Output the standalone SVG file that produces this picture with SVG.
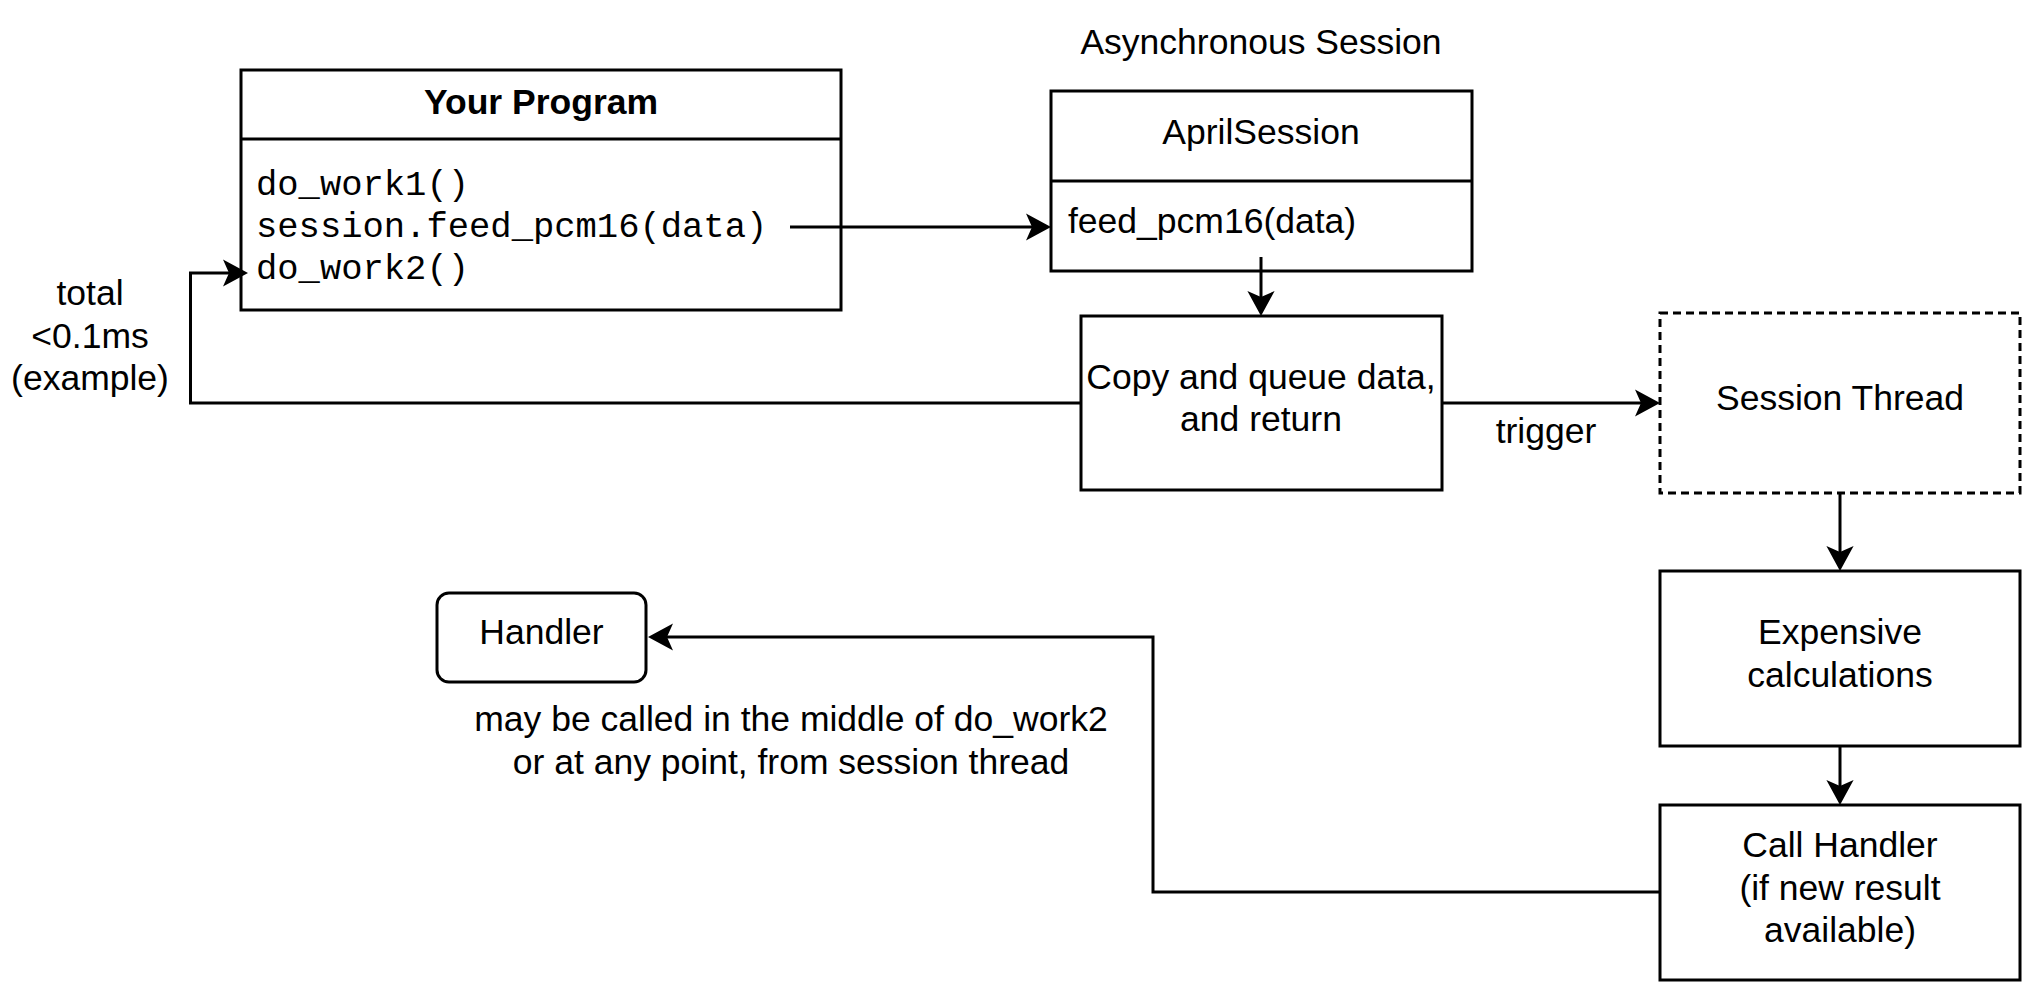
<svg xmlns="http://www.w3.org/2000/svg" width="2022" height="984" viewBox="0 0 2022 984">
<style>
  .box { fill: #ffffff; stroke: #000000; stroke-width: 3; }
  .dash { stroke-dasharray: 8 5; }
  .edge { fill: none; stroke: #000000; stroke-width: 3; }
  .t { font-family: "Liberation Sans", Arial, Helvetica, sans-serif; font-size: 35.5px; fill: #000000; text-anchor: middle; }
  .b { font-weight: bold; }
  .l { text-anchor: start; }
  .mono { font-family: "Liberation Mono", "Courier New", monospace; font-size: 35.5px; fill: #000000; }
</style>
<defs>
  <marker id="arrow" markerUnits="userSpaceOnUse" viewBox="-7 -15 27 30" markerWidth="27" markerHeight="30" refX="0" refY="0" orient="auto">
    <path d="M19,0 L-6,-13.6 L0,0 L-6,13.6 Z" fill="#000000"/>
  </marker>
</defs>
<rect width="2022" height="984" fill="#ffffff"/>

<g id="your-program">
  <rect class="box" x="241" y="70" width="600" height="240"/>
  <line class="edge" x1="241" y1="139" x2="841" y2="139"/>
  <text class="t b" x="541" y="114">Your Program</text>
  <text class="mono" x="256" y="195">do_work1()</text>
  <text class="mono" x="256" y="237">session.feed_pcm16(data)</text>
  <text class="mono" x="256" y="279">do_work2()</text>
</g>

<g id="async-session-label">
  <text class="t" x="1261" y="54">Asynchronous Session</text>
</g>

<g id="april-session">
  <rect class="box" x="1051" y="91" width="421" height="180"/>
  <line class="edge" x1="1051" y1="181" x2="1472" y2="181"/>
  <text class="t" x="1261" y="144">AprilSession</text>
  <text class="t l" x="1068" y="233">feed_pcm16(data)</text>
</g>

<g id="copy-queue">
  <rect class="box" x="1081" y="316" width="361" height="174"/>
  <text class="t" x="1261" y="388.5">Copy and queue data,</text>
  <text class="t" x="1261" y="431">and return</text>
</g>

<g id="session-thread">
  <rect class="box dash" x="1660" y="313" width="360" height="180"/>
  <text class="t" x="1840" y="410">Session Thread</text>
</g>

<g id="expensive">
  <rect class="box" x="1660" y="571" width="360" height="175"/>
  <text class="t" x="1840" y="644">Expensive</text>
  <text class="t" x="1840" y="686.5">calculations</text>
</g>

<g id="call-handler">
  <rect class="box" x="1660" y="805" width="360" height="175"/>
  <text class="t" x="1840" y="857">Call Handler</text>
  <text class="t" x="1840" y="899.5">(if new result</text>
  <text class="t" x="1840" y="942">available)</text>
</g>

<g id="handler">
  <rect class="box" x="437" y="593" width="209" height="89" rx="12" ry="12"/>
  <text class="t" x="541.5" y="644">Handler</text>
</g>

<g id="connectors">
  <path class="edge" d="M790,227 H1032" marker-end="url(#arrow)"/>
  <path class="edge" d="M1261,257 V297" marker-end="url(#arrow)"/>
  <path class="edge" d="M1442,403 H1641" marker-end="url(#arrow)"/>
  <path class="edge" d="M1081,403 H190.5 V273 H229" marker-end="url(#arrow)"/>
  <path class="edge" d="M1840,493 V552" marker-end="url(#arrow)"/>
  <path class="edge" d="M1840,746 V786" marker-end="url(#arrow)"/>
  <path class="edge" d="M1660,892 H1153 V637 H667" marker-end="url(#arrow)"/>
</g>

<g id="labels">
  <text class="t" x="1546" y="443">trigger</text>
  <text class="t" x="90" y="305">total</text>
  <text class="t" x="90" y="348">&lt;0.1ms</text>
  <text class="t" x="90" y="390">(example)</text>
  <text class="t" x="791" y="731">may be called in the middle of do_work2</text>
  <text class="t" x="791" y="774">or at any point, from session thread</text>
</g>
</svg>
